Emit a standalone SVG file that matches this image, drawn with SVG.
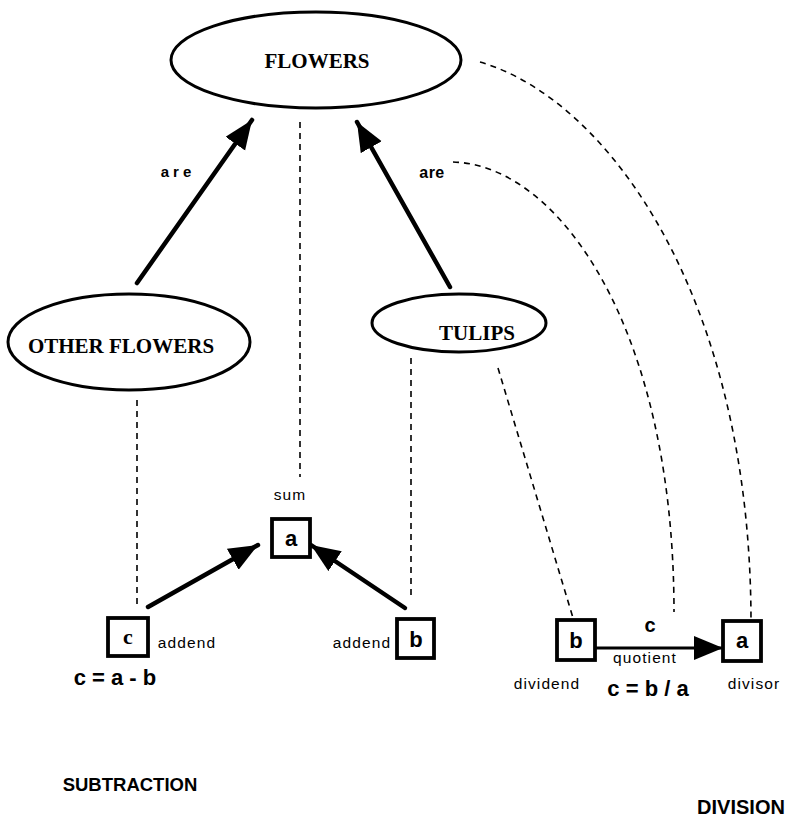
<svg xmlns="http://www.w3.org/2000/svg" width="788" height="819" viewBox="0 0 788 819">
  <style>
    .oval { fill: #fff; stroke: #000; stroke-width: 3; }
    .box { fill: #fff; stroke: #000; stroke-width: 3.8; }
    .serif { font-family: "Liberation Serif", "Times New Roman", serif; font-weight: bold; fill: #000; }
    .sans { font-family: "Liberation Sans", Arial, Helvetica, sans-serif; fill: #000; }
    .bold { font-weight: bold; }
    .small { font-size: 15.5px; letter-spacing: 1.1px; }
    .dash { fill: none; stroke: #000; stroke-width: 1.6; stroke-dasharray: 6 5; }
    .thick { fill: none; stroke: #000; stroke-width: 4.5; stroke-linecap: round; }
    .thin { fill: none; stroke: #000; stroke-width: 3; }
  </style>
  <defs>
    <marker id="head" markerUnits="userSpaceOnUse" markerWidth="30" markerHeight="26" refX="29" refY="12" orient="auto">
      <path d="M0,0 L29,12 L0,24 z" fill="#000"/>
    </marker>
  </defs>

  <rect width="788" height="819" fill="#fff"/>

  <!-- connectors -->
  <g id="connectors">
    <!-- dashed correspondence lines -->
    <line class="dash" x1="300" y1="122" x2="300" y2="477"/>
    <line class="dash" x1="137" y1="400" x2="137" y2="607"/>
    <line class="dash" x1="411" y1="358" x2="411" y2="595"/>
    <line class="dash" x1="498" y1="368" x2="573" y2="618"/>
    <path class="dash" d="M480,62 C610,100 751,300 751,622"/>
    <path class="dash" d="M453,162 C560,165 674,330 674,612"/>
    <!-- class inclusion arrows -->
    <line class="thick" x1="137" y1="283" x2="252" y2="120" marker-end="url(#head)"/>
    <line class="thick" x1="450" y1="287" x2="357" y2="122" marker-end="url(#head)"/>
    <!-- addition arrows -->
    <line class="thick" x1="148" y1="607" x2="258" y2="545" marker-end="url(#head)"/>
    <line class="thick" x1="405" y1="608" x2="311" y2="545" marker-end="url(#head)"/>
    <!-- division arrow -->
    <line class="thin" x1="596" y1="648" x2="723" y2="648" marker-end="url(#head)"/>
  </g>

  <!-- category nodes -->
  <g id="flowers">
    <ellipse class="oval" cx="316" cy="60" rx="145" ry="48"/>
    <text class="serif" x="317" y="68" font-size="21" text-anchor="middle">FLOWERS</text>
  </g>
  <g id="other-flowers">
    <ellipse class="oval" cx="129" cy="342" rx="121" ry="48"/>
    <text class="serif" x="121" y="353" font-size="21" text-anchor="middle">OTHER FLOWERS</text>
  </g>
  <g id="tulips">
    <ellipse class="oval" cx="459" cy="323" rx="87" ry="29"/>
    <text class="serif" x="477" y="340" font-size="21" text-anchor="middle">TULIPS</text>
  </g>

  <!-- relation labels -->
  <text class="sans bold" x="178" y="177" font-size="15" letter-spacing="4" text-anchor="middle">are</text>
  <text class="sans bold" x="432" y="178" font-size="16" letter-spacing="0.5" text-anchor="middle">are</text>

  <!-- subtraction quantities -->
  <g id="sub-a">
    <rect class="box" x="272" y="519" width="38" height="38"/>
    <text class="sans bold" x="291" y="546" font-size="22" text-anchor="middle">a</text>
    <text class="sans small" x="290" y="500" text-anchor="middle">sum</text>
  </g>
  <g id="sub-c">
    <rect class="box" x="108" y="618" width="40" height="38"/>
    <text class="serif" x="128" y="644" font-size="22" text-anchor="middle">c</text>
    <text class="sans small" x="187" y="648" text-anchor="middle">addend</text>
  </g>
  <g id="sub-b">
    <rect class="box" x="397" y="619" width="37" height="39"/>
    <text class="sans bold" x="416" y="647" font-size="22" text-anchor="middle">b</text>
    <text class="sans small" x="362" y="648" text-anchor="middle">addend</text>
  </g>
  <text class="sans bold" x="115" y="685" font-size="22" text-anchor="middle">c = a - b</text>

  <!-- division quantities -->
  <g id="div-b">
    <rect class="box" x="557" y="620" width="38" height="40"/>
    <text class="sans bold" x="576" y="648" font-size="22" text-anchor="middle">b</text>
    <text class="sans small" x="547" y="689" text-anchor="middle">dividend</text>
  </g>
  <g id="div-a">
    <rect class="box" x="723" y="621" width="38" height="40"/>
    <text class="sans bold" x="742" y="648" font-size="22" text-anchor="middle">a</text>
    <text class="sans small" x="754" y="689" text-anchor="middle">divisor</text>
  </g>
  <text class="sans bold" x="650" y="632" font-size="20" text-anchor="middle">c</text>
  <text class="sans small" x="645" y="663" text-anchor="middle">quotient</text>
  <text class="sans bold" x="648" y="696" font-size="22" text-anchor="middle">c = b / a</text>

  <!-- section titles -->
  <text class="sans bold" x="130" y="791" font-size="18.5" text-anchor="middle">SUBTRACTION</text>
  <text class="sans bold" x="741" y="814" font-size="20" text-anchor="middle">DIVISION</text>
</svg>
